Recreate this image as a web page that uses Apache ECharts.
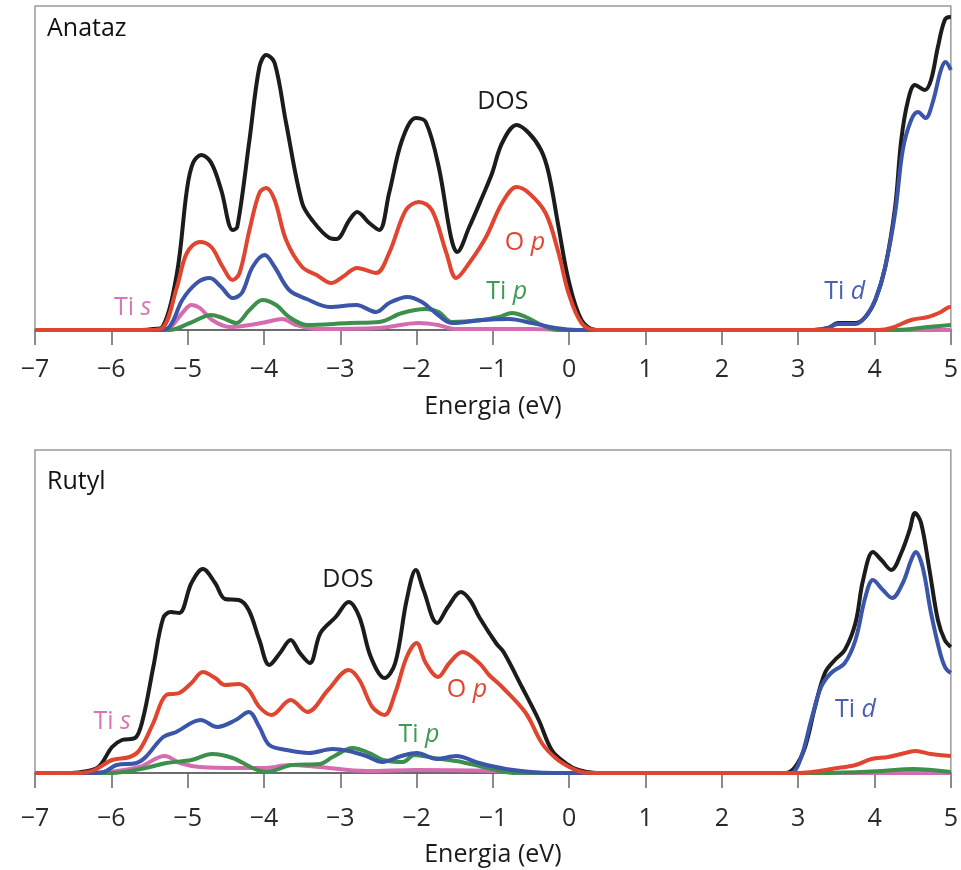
<!DOCTYPE html>
<html>
<head>
<meta charset="utf-8">
<script src="https://cdn.jsdelivr.net/npm/echarts@6/dist/echarts.min.js"></script>
<style>
  html, body { margin: 0; padding: 0; background: #fff; }
  #chart { width: 961px; height: 870px; }
</style>
</head>
<body>
<div id="chart"></div>
<script>
// energy (eV), intensity (arb. units)
var xTicks = [-7, -6, -5, -4, -3, -2, -1, 0, 1, 2, 3, 4, 5];

var anatazDOS = [[-7,0],[-5.6,0],[-5.45,1],[-5.33,3],[-5.14,57],[-5.01,140],[-4.93,167],[-4.82,175],[-4.69,167],[-4.56,140],[-4.41,100],[-4.35,103],[-4.19,190],[-4.06,263],[-3.97,275],[-3.86,267],[-3.71,207],[-3.5,127],[-3.37,110],[-3.14,92],[-3.05,91],[-2.88,110],[-2.78,118],[-2.62,107],[-2.49,100],[-2.36,137],[-2.19,190],[-2.01,212],[-1.88,208],[-1.71,163],[-1.55,93],[-1.47,78],[-1.31,103],[-1.14,133],[-1.01,157],[-0.88,187],[-0.69,205],[-0.53,197],[-0.37,180],[-0.27,157],[-0.14,103],[-0.01,50],[0.16,10],[0.35,0],[3.2,0],[3.39,2],[3.52,7],[3.75,7],[3.88,13],[4.01,30],[4.14,63],[4.27,123],[4.35,190],[4.44,230],[4.53,245],[4.66,240],[4.74,250],[4.83,283],[4.92,310],[4.99,313],[5,313]];
var anatazOp = [[-7,0],[-5.5,0],[-5.33,2],[-5.14,43],[-5.01,77],[-4.84,88],[-4.69,83],[-4.54,63],[-4.41,50],[-4.32,57],[-4.19,100],[-4.06,137],[-3.97,142],[-3.86,130],[-3.71,90],[-3.5,63],[-3.31,55],[-3.12,47],[-2.97,53],[-2.78,62],[-2.53,57],[-2.36,77],[-2.14,120],[-1.97,128],[-1.8,120],[-1.61,77],[-1.48,52],[-1.31,67],[-1.09,93],[-0.88,127],[-0.69,143],[-0.53,137],[-0.31,117],[-0.14,77],[-0.01,37],[0.16,7],[0.35,0],[4.05,0],[4.22,2],[4.48,10],[4.7,13],[4.87,18],[4.99,23],[5,23]];
var anatazTid = [[-7,0],[-5.4,0],[-5.24,3],[-5.07,30],[-4.88,47],[-4.71,52],[-4.56,43],[-4.41,32],[-4.29,37],[-4.15,63],[-3.99,75],[-3.86,63],[-3.67,40],[-3.44,31],[-3.14,23],[-2.79,25],[-2.53,18],[-2.36,27],[-2.12,33],[-1.93,28],[-1.75,17],[-1.54,7],[-1.14,10],[-0.79,11],[-0.49,7],[-0.18,2],[0.1,0],[3.2,0],[3.39,2],[3.52,6],[3.75,6],[3.88,13],[4.01,30],[4.14,63],[4.27,117],[4.37,180],[4.48,210],[4.57,218],[4.67,212],[4.76,227],[4.87,260],[4.93,268],[5,260]];
var anatazTip = [[-7,0],[-5.24,0],[-4.97,7],[-4.69,15],[-4.54,12],[-4.36,7],[-4.19,20],[-4.02,30],[-3.84,25],[-3.67,13],[-3.44,5],[-2.88,7],[-2.49,8],[-2.19,17],[-1.88,21],[-1.71,18],[-1.54,8],[-1.14,10],[-0.92,13],[-0.75,17],[-0.57,13],[-0.36,5],[-0.14,0],[4.3,0],[4.7,3],[5,5]];
var anatazTis = [[-7,0],[-5.4,0],[-5.24,2],[-5.07,17],[-4.95,25],[-4.84,22],[-4.68,10],[-4.45,3],[-4.19,5],[-3.97,8],[-3.76,11],[-3.58,5],[-3.3,1],[-2.5,2],[-1.97,7],[-1.72,5],[-1.5,1],[-0.5,1],[0,0],[5,0]];

var rutylDOS = [[-7,0],[-6.6,0],[-6.39,1],[-6.17,6],[-5.99,26],[-5.86,33],[-5.69,35],[-5.59,53],[-5.45,106],[-5.32,155],[-5.22,161],[-5.11,160],[-4.95,190],[-4.8,204],[-4.64,190],[-4.51,174],[-4.33,173],[-4.2,163],[-4.06,133],[-3.93,108],[-3.79,120],[-3.65,133],[-3.53,120],[-3.4,110],[-3.26,140],[-3.06,156],[-2.89,171],[-2.75,156],[-2.6,116],[-2.42,95],[-2.28,110],[-2.13,173],[-2.01,203],[-1.91,183],[-1.73,150],[-1.59,166],[-1.42,181],[-1.3,173],[-1.18,156],[-0.96,130],[-0.86,121],[-0.62,86],[-0.4,53],[-0.23,23],[-0.05,10],[0.12,3],[0.35,0],[2.83,0],[2.96,6],[3.09,26],[3.22,66],[3.35,100],[3.48,113],[3.61,123],[3.75,150],[3.85,193],[3.98,221],[4.09,213],[4.22,203],[4.35,220],[4.46,243],[4.53,260],[4.61,250],[4.72,203],[4.83,153],[4.92,133],[5,126]];
var rutylOp = [[-7,0],[-6.4,0],[-6.22,3],[-5.99,13],[-5.76,16],[-5.63,23],[-5.45,50],[-5.28,78],[-5.11,80],[-4.95,90],[-4.8,101],[-4.64,95],[-4.51,88],[-4.33,89],[-4.2,83],[-4.06,66],[-3.9,58],[-3.65,73],[-3.43,61],[-3.16,83],[-2.89,103],[-2.75,93],[-2.58,66],[-2.42,58],[-2.28,80],[-2.13,116],[-2.0,130],[-1.88,110],[-1.72,96],[-1.57,110],[-1.4,121],[-1.18,110],[-1.05,98],[-0.88,86],[-0.57,60],[-0.36,30],[-0.18,15],[0,6],[0.16,1],[0.3,0],[3.0,0],[3.52,5],[3.75,8],[3.96,14],[4.18,16],[4.4,20],[4.54,22],[4.74,19],[5,17]];
var rutylTid = [[-7,0],[-6.3,0],[-6.1,1],[-5.93,8],[-5.67,10],[-5.55,16],[-5.32,36],[-5.15,41],[-4.83,53],[-4.61,46],[-4.37,53],[-4.2,61],[-4.06,46],[-3.93,28],[-3.7,23],[-3.41,20],[-3.1,24],[-2.89,22],[-2.66,17],[-2.45,11],[-2.2,17],[-2.0,20],[-1.73,14],[-1.48,17],[-1.18,10],[-0.83,4],[-0.5,1],[-0.2,0],[2.8,0],[2.91,0],[3.04,16],[3.17,53],[3.3,86],[3.43,100],[3.61,110],[3.75,133],[3.88,176],[3.98,193],[4.11,183],[4.23,175],[4.37,190],[4.48,213],[4.54,221],[4.63,206],[4.74,160],[4.86,120],[4.93,105],[5,100]];
var rutylTip = [[-7,0],[-6.0,0],[-5.55,5],[-5.28,10],[-4.95,13],[-4.68,19],[-4.41,15],[-4.15,5],[-3.97,1],[-3.63,8],[-3.27,9],[-3.1,16],[-2.84,25],[-2.62,20],[-2.44,13],[-2.18,11],[-2.03,18],[-1.78,15],[-1.48,12],[-1.18,7],[-0.96,3],[-0.7,0],[3.3,0],[4.1,2],[4.5,4],[5,1]];
var rutylTis = [[-7,0],[-6.2,0],[-6.02,1],[-5.63,6],[-5.3,17],[-5.1,10],[-4.84,6],[-4.3,5],[-3.97,5],[-3.67,8],[-3.27,6],[-2.66,2],[-2.0,3],[-1.0,2],[-0.4,0],[5,0]];

var colors = { dos: '#1c1c1c', op: '#e0452f', tid: '#3b55a8', tip: '#3d8f4c', tis: '#d56bb0' };
var textColors = { dos: '#1c1c1c', op: '#e0452f', tid: '#4a60b3', tip: '#3f9a55', tis: '#d775b8' };

// label anchors, data coordinates [E, intensity]
var anatazLabels = [
  { key: 'dos', text: 'DOS', at: [-0.87, 228] },
  { key: 'op', text: 'O {i|p}', at: [-0.58, 87] },
  { key: 'tip', text: 'Ti {i|p}', at: [-0.82, 38] },
  { key: 'tis', text: 'Ti {i|s}', at: [-5.72, 22] },
  { key: 'tid', text: 'Ti {i|d}', at: [3.61, 38] }
];
var rutylLabels = [
  { key: 'dos', text: 'DOS', at: [-2.9, 193] },
  { key: 'op', text: 'O {i|p}', at: [-1.34, 83] },
  { key: 'tip', text: 'Ti {i|p}', at: [-1.97, 38] },
  { key: 'tis', text: 'Ti {i|s}', at: [-5.99, 51] },
  { key: 'tid', text: 'Ti {i|d}', at: [3.75, 63] }
];

var FONT = '"Open Sans", "Noto Sans", sans-serif';

function fmtTick(v) {
  return v < 0 ? '\u2212' + Math.abs(v) : String(v);
}

function makeX(idx, margin, gap) {
  return {
    type: 'value', gridIndex: idx, min: -7, max: 5, interval: 1,
    name: 'Energia (eV)', nameLocation: 'middle', nameGap: gap,
    nameTextStyle: { fontFamily: FONT, fontSize: 25, color: '#1a1a1a' },
    axisLine: { lineStyle: { color: '#555', width: 1.5 } },
    axisTick: { length: 15, lineStyle: { color: '#666', width: 1.5 } },
    axisLabel: { formatter: fmtTick, margin: margin, fontFamily: FONT, fontSize: 25, color: '#2a2a2a' },
    splitLine: { show: false }
  };
}

function makeY(idx, max) {
  return {
    type: 'value', gridIndex: idx, min: 0, max: max,
    axisLine: { show: false }, axisTick: { show: false },
    axisLabel: { show: false }, splitLine: { show: false }
  };
}

function line(idx, data, key) {
  return {
    type: 'line', xAxisIndex: idx, yAxisIndex: idx, data: data,
    smooth: 0.35, showSymbol: false, symbol: 'none',
    lineStyle: { color: colors[key], width: 4 },
    itemStyle: { color: colors[key] },
    animation: false
  };
}

var chart = echarts.init(document.getElementById('chart'));
var option = {
  animation: false,
  grid: [
    { left: 35, right: 8, top: 6, height: 324, show: true, borderColor: '#9a9a9a', borderWidth: 1.5 },
    { left: 35, right: 8, top: 450, height: 323, show: true, borderColor: '#9a9a9a', borderWidth: 1.5 }
  ],
  xAxis: [makeX(0, 27, 64), makeX(1, 33, 69)],
  yAxis: [makeY(0, 324), makeY(1, 323)],
  series: [
    line(0, anatazTis, 'tis'), line(0, anatazTip, 'tip'), line(0, anatazDOS, 'dos'),
    line(0, anatazTid, 'tid'), line(0, anatazOp, 'op'),
    line(1, rutylTis, 'tis'), line(1, rutylTip, 'tip'), line(1, rutylDOS, 'dos'),
    line(1, rutylTid, 'tid'), line(1, rutylOp, 'op')
  ]
};
chart.setOption(option);

var graphics = [
  { type: 'text', left: 47, top: 16, style: { text: 'Anataz', fill: '#111', font: '25px ' + FONT } },
  { type: 'text', left: 47, top: 469, style: { text: 'Rutyl', fill: '#111', font: '25px ' + FONT } }
];
function addLabels(list, idx) {
  list.forEach(function (l) {
    var p = chart.convertToPixel({ gridIndex: idx }, l.at);
    graphics.push({
      type: 'text', x: p[0], y: p[1],
      style: {
        text: l.text, fill: textColors[l.key], fontFamily: FONT, fontSize: 25,
        align: 'center', verticalAlign: 'middle',
        rich: { i: { fontStyle: 'italic', fontFamily: FONT, fontSize: 25, fill: textColors[l.key] } }
      }
    });
  });
}
addLabels(anatazLabels, 0);
addLabels(rutylLabels, 1);
chart.setOption({ graphic: graphics });
</script>
</body>
</html>
